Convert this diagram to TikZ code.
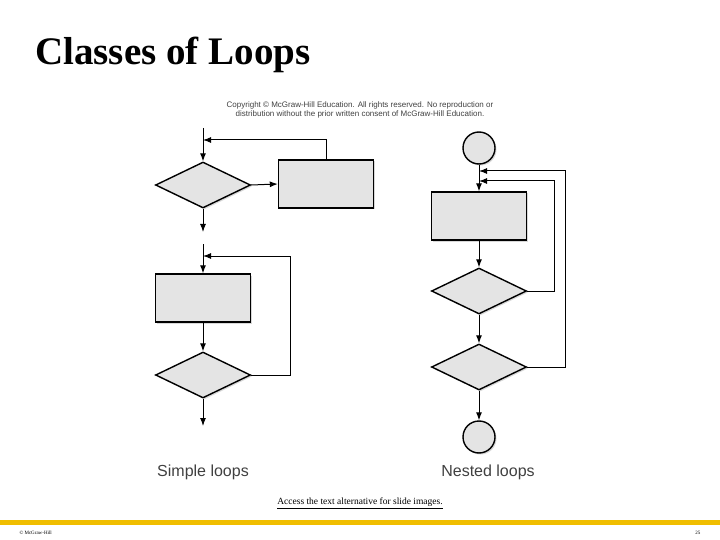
\documentclass[tikz,border=0pt]{standalone}
\usepackage{fontspec}
\setmainfont{Liberation Serif}
\setsansfont{Liberation Sans}
\usetikzlibrary{shapes.geometric,arrows.meta,shadows}
\definecolor{shapefill}{HTML}{E4E4E4}
\definecolor{bar}{HTML}{F0BE00}
\begin{document}
\begin{tikzpicture}[x=1pt,y=-1pt,
  sh/.style={draw=black,line width=1.4pt,fill=shapefill,drop shadow={shadow xshift=1.5pt,shadow yshift=-1.5pt,fill=gray!60}},
  box/.style={sh,rectangle,minimum width=95pt,minimum height=48pt,inner sep=0pt},
  dia/.style={sh,diamond,aspect=2.07,minimum width=95pt,minimum height=46pt,inner sep=0pt},
  circ/.style={sh,circle,minimum size=32pt,inner sep=0pt},
  ln/.style={draw=black,line width=1pt},
  ar/.style={ln,-{Latex[length=8pt,width=6pt]}},
  lab/.style={font=\sffamily\fontsize{16}{16}\selectfont,text=black!75}]
\useasboundingbox (0,0) rectangle (720,540);
\node[anchor=base west,inner sep=0pt,font=\bfseries\fontsize{39}{39}\selectfont] (title) at (35,65) {Classes of Loops};
\node[align=center,font=\sffamily\fontsize{8}{9.5}\selectfont,text=black!75] (copy) at (360,110) {Copyright \textcopyright\ McGraw-Hill Education. All rights reserved. No reproduction or\\distribution without the prior written consent of McGraw-Hill Education.};
% simple loop 1
\coordinate (s1in) at (203,128);
\node[dia] (d1) at (203,185) {};
\node[box] (b1) at (326,184) {};
\coordinate (s1j) at (203,140);
\coordinate (s1c) at (326,140);
\coordinate (s1out) at (203,232);
\draw[ar] (s1in) -- (d1.north);
\draw[ar] (d1.east) -- (b1.west);
\draw[ar] (b1.north) -- (s1c) -- (s1j);
\draw[ar] (d1.south) -- (s1out);
% simple loop 2
\coordinate (s2in) at (203,244);
\node[box] (b2) at (203,298) {};
\node[dia] (d2) at (203,375) {};
\coordinate (s2j) at (203,256);
\coordinate (s2c) at (290,256);
\coordinate (s2out) at (203,426);
\draw[ar] (s2in) -- (b2.north);
\draw[ar] (b2.south) -- (d2.north);
\draw[ar] (d2.east) -| (s2c) -- (s2j);
\draw[ar] (d2.south) -- (s2out);
% nested
\node[circ] (c1) at (479,148) {};
\node[box] (b3) at (479,216) {};
\node[dia] (d3) at (479,291) {};
\node[dia] (d4) at (479,367) {};
\node[circ] (c2) at (479,437) {};
\coordinate (n1) at (479,171);
\coordinate (n2) at (479,181);
\coordinate (n1c) at (565,171);
\coordinate (n2c) at (554,181);
\draw[ar] (c1.south) -- (b3.north);
\draw[ar] (b3.south) -- (d3.north);
\draw[ar] (d3.south) -- (d4.north);
\draw[ar] (d4.south) -- (c2.north);
\draw[ar] (d3.east) -| (n2c) -- (n2);
\draw[ar] (d4.east) -| (n1c) -- (n1);
\node[lab] (l1) at (203,472) {Simple loops};
\node[lab] (l2) at (488,472) {Nested loops};
\node[font=\fontsize{9.5}{9.5}\selectfont] (acc) at (360,503) {\underline{Access the text alternative for slide images.}};
\fill[bar] (0,520) rectangle (720,525);
\node[anchor=west,font=\fontsize{5}{5}\selectfont] (mh) at (16,533) {\textcopyright\ McGraw-Hill};
\node[anchor=east,font=\fontsize{5}{5}\selectfont] (pg) at (704,533) {25};
\end{tikzpicture}
\end{document}
